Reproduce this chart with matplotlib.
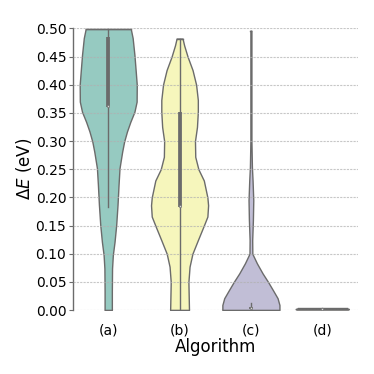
import matplotlib
matplotlib.use("Agg")
import matplotlib.pyplot as plt
import numpy as np

# categories
algorithms = ["(a)", "(b)", "(c)", "(d)"]
colors = ["#96cac1", "#f6f6bc", "#c1bed6", "#e89a90"]
edge_gray = "#6b6b6b"

# violin outlines: energy values and relative density (max = 1)
dens_a_vals = [0.0, 0.033, 0.074, 0.098, 0.121, 0.151, 0.187, 0.222, 0.252, 0.281,
               0.299, 0.317, 0.334, 0.352, 0.37, 0.40, 0.423, 0.453, 0.483, 0.499]
dens_a = [0.127, 0.127, 0.134, 0.162, 0.221, 0.279, 0.326, 0.361, 0.396, 0.488,
          0.557, 0.657, 0.774, 0.918, 0.995, 1.0, 0.965, 0.918, 0.856, 0.791]

dens_b_vals = [0.0, 0.05, 0.077, 0.10, 0.124, 0.15, 0.166, 0.186, 0.20, 0.23, 0.25,
               0.272, 0.30, 0.325, 0.352, 0.373, 0.40, 0.426, 0.45, 0.47, 0.482]
dens_b = [0.33, 0.31, 0.35, 0.45, 0.64, 0.85, 0.975, 1.0, 0.975, 0.85, 0.66,
          0.55, 0.54, 0.61, 0.64, 0.64, 0.58, 0.455, 0.28, 0.16, 0.105]

dens_c_vals = [0.0, 0.009, 0.021, 0.035, 0.05, 0.065, 0.083, 0.10, 0.124, 0.16,
               0.195, 0.23, 0.254, 0.30, 0.40, 0.496]
dens_c = [1.0, 1.0, 0.935, 0.775, 0.60, 0.41, 0.21, 0.05, 0.045, 0.07,
          0.083, 0.058, 0.035, 0.018, 0.018, 0.018]

dens_d_vals = [0.0008, 0.0015, 0.002, 0.0025, 0.003]
dens_d = [0.90, 0.93, 0.93, 0.90, 0.86]

# box stats: q1, median, q3, lower whisker, upper whisker
q1 = [0.361, 0.183, 0.001, 0.0015]
median = [0.362, 0.184, 0.003, 0.002]
q3 = [0.484, 0.352, 0.005, 0.0025]
whisk_lo = [0.183, 0.0, 0.0, 0.0008]
whisk_hi = [0.499, 0.482, 0.012, 0.003]

yticks = [0.0, 0.05, 0.10, 0.15, 0.20, 0.25, 0.30, 0.35, 0.40, 0.45, 0.50]

profiles = [(dens_a_vals, dens_a), (dens_b_vals, dens_b),
            (dens_c_vals, dens_c), (dens_d_vals, dens_d)]

fig = plt.figure(figsize=(3.74, 3.74), dpi=100)
ax = fig.add_axes([0.194, 0.171, 0.763, 0.753])

half = 0.4
for i, (vals, dens) in enumerate(profiles):
    vals = np.array(vals)
    w = np.array(dens) * half
    ax.fill_betweenx(vals, i - w, i + w, facecolor=colors[i], edgecolor=edge_gray,
                     linewidth=1.0, zorder=2)
    ax.plot([i - w[0], i + w[0]], [vals[0], vals[0]], color=edge_gray, lw=1.0, zorder=2)
    ax.plot([i - w[-1], i + w[-1]], [vals[-1], vals[-1]], color=edge_gray, lw=1.0, zorder=2)
    # inner box
    ax.plot([i, i], [whisk_lo[i], whisk_hi[i]], color=edge_gray, lw=1.0, zorder=4)
    ax.plot([i, i], [q1[i], q3[i]], color=edge_gray, lw=2.7, solid_capstyle="butt", zorder=4)
    ax.scatter([i], [median[i]], s=3, marker="s", color="#d8d8d8", edgecolor=edge_gray,
               linewidth=0.4, zorder=5)

ax.set_xlim(-0.5, 3.5)
ax.set_ylim(0, 0.5)
ax.set_xticks(range(4))
ax.set_xticklabels(algorithms, fontsize=10)
ax.set_yticks(yticks)
ax.set_yticklabels([f"{t:.2f}" for t in yticks], fontsize=10)
ax.tick_params(axis="x", length=0, pad=10)
ax.tick_params(axis="y", length=3, pad=1.5, color=edge_gray)
ax.set_xlabel("Algorithm", fontsize=12, labelpad=0)
ax.set_ylabel(r"$\Delta E$ (eV)", fontsize=12, labelpad=1)

for s in ["top", "right", "bottom"]:
    ax.spines[s].set_visible(False)
ax.spines["left"].set_color(edge_gray)
ax.spines["left"].set_linewidth(1.0)
ax.yaxis.grid(True, linestyle=(0, (2, 1)), color="#b0b0b0", linewidth=0.8, alpha=0.7, zorder=3)
ax.set_axisbelow(False)

fig.savefig("out.png", dpi=100)
